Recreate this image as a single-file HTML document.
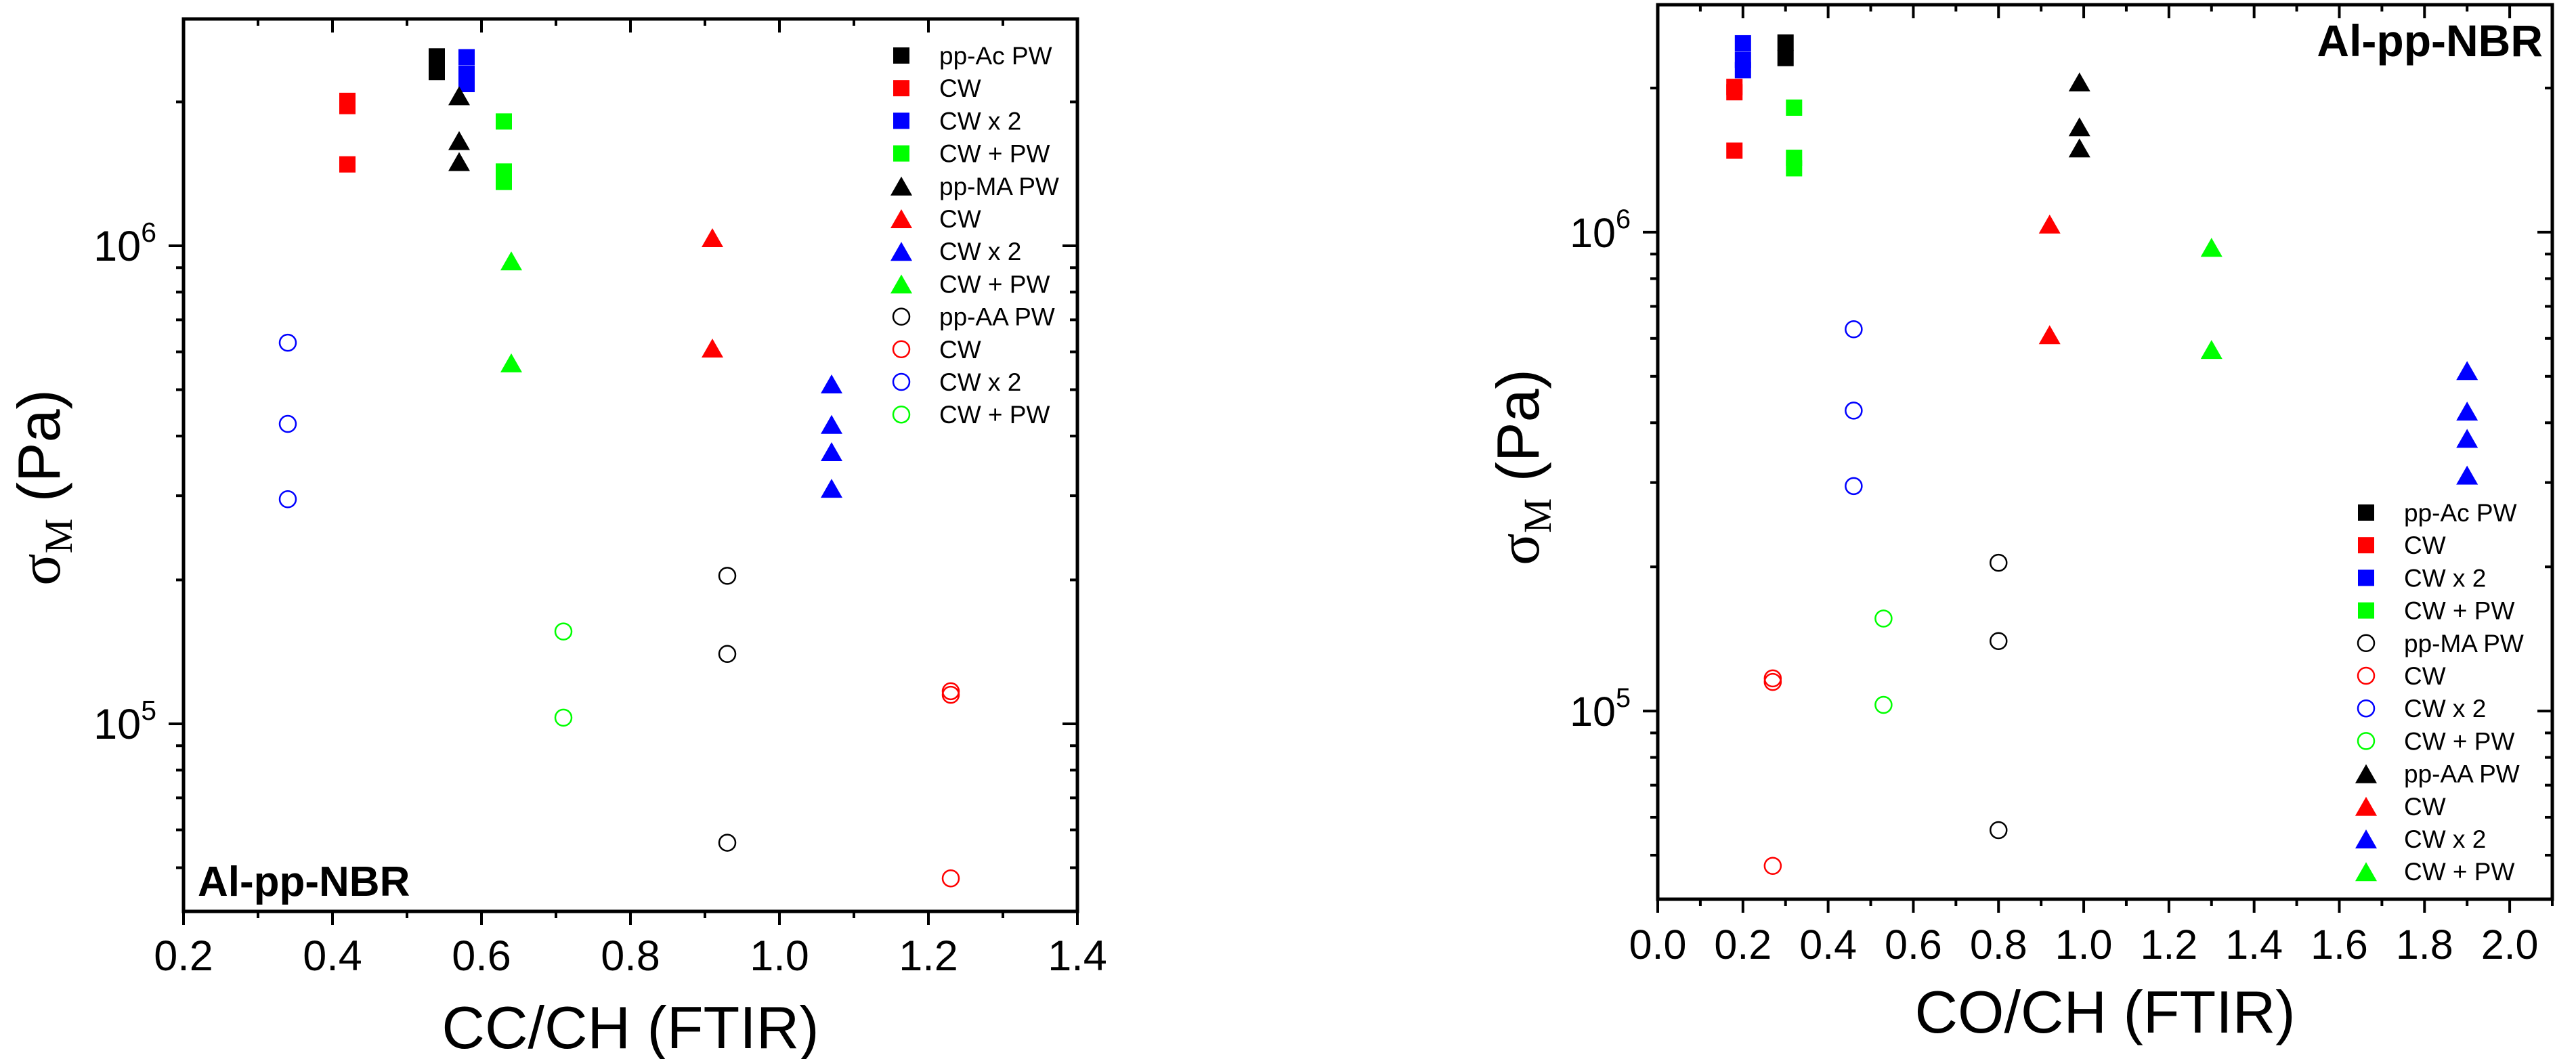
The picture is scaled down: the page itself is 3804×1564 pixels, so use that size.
<!DOCTYPE html>
<html><head><meta charset="utf-8"><style>
html,body{margin:0;padding:0;background:#fff;}
svg{display:block;font-family:"Liberation Sans",Arial,sans-serif;}
</style></head><body>
<svg id="svg" width="3804" height="1564" viewBox="0 0 3804 1564" xmlns="http://www.w3.org/2000/svg"></svg>
<script>
// ---- data (stress sigma_M in Pa) ----
const sqBlackY = [2.49e6, 2.31e6];
const sqRedY = [2.01e6, 1.96e6, 1.48e6];
const sqBlueY = [2.48e6, 2.29e6, 2.18e6];
const sqGreenY = [1.82e6, 1.43e6, 1.36e6];
const triBlackY = [2.06e6, 1.66e6, 1.50e6];
const triRedY = [1.04e6, 6.11e5];
const triBlueY = [5.14e5, 4.23e5, 3.71e5, 3.11e5];
const triGreenY = [9.3e5, 5.69e5];
const cirBlackY = [2.04e5, 1.40e5, 5.64e4];
const cirRedY = [1.17e5, 1.15e5, 4.75e4];
const cirBlueY = [6.27e5, 4.24e5, 2.95e5];
const cirGreenY = [1.56e5, 1.03e5];
// CC/CH x values (left panel)
const ccX = {sqBlack:0.54, sqRed:0.42, sqBlue:0.58, sqGreen:0.63, triBlack:0.57, triRed:0.91, triBlue:1.07, triGreen:0.64, cirBlack:0.93, cirRed:1.23, cirBlue:0.34, cirGreen:0.71};
// CO/CH x values (right panel)
const coX = {sqBlack:0.30, sqRed:0.18, sqBlue:0.20, sqGreen:0.32, triBlack:0.99, triRed:0.92, triBlue:1.90, triGreen:1.30, cirBlack:0.80, cirRed:0.27, cirBlue:0.46, cirGreen:0.53};
const leftTicks = ["0.2","0.4","0.6","0.8","1.0","1.2","1.4"];
const rightTicks = ["0.0","0.2","0.4","0.6","0.8","1.0","1.2","1.4","1.6","1.8","2.0"];
const leftLegend = ["pp-Ac PW","CW","CW x 2","CW + PW","pp-MA PW","CW","CW x 2","CW + PW","pp-AA PW","CW","CW x 2","CW + PW"];
const rightLegend = ["pp-Ac PW","CW","CW x 2","CW + PW","pp-MA PW","CW","CW x 2","CW + PW","pp-AA PW","CW","CW x 2","CW + PW"];

const NS="http://www.w3.org/2000/svg";
const svg=document.getElementById('svg');
function mk(tag,attrs,parent,txt){const e=document.createElementNS(NS,tag);for(const k in attrs)e.setAttribute(k,attrs[k]);if(txt!==undefined)e.textContent=txt;(parent||svg).appendChild(e);return e;}
const COL={Black:'#000',Red:'#ff0000',Blue:'#0000ff',Green:'#00ff00'};
function marker(g,shape,color,cx,cy){
  let e;
  if(shape==='sq'){e=mk('rect',{x:cx-12,y:cy-12,width:24,height:24,fill:color},g);}
  else if(shape==='tri'){e=mk('polygon',{points:`${cx},${cy-14} ${cx+16},${cy+14} ${cx-16},${cy+14}`,fill:color},g);}
  else {e=mk('circle',{cx:cx,cy:cy,r:12,fill:'none',stroke:color,'stroke-width':2.5},g);}
  return e;
}
function panel(o){
  const g=mk('g',{});
  
  
  const xs=v=>o.L+(v-o.xmin)/(o.xmax-o.xmin)*(o.R-o.L);
  const ys=v=>o.T+(o.lmax-Math.log10(v))/(o.lmax-o.lmin)*(o.B-o.T);
  for(let v=o.xmin;v<=o.xmax+1e-9;v+=0.1){
    const major=Math.abs(Math.round(v*10)%2)===0;
    const x=xs(v);
    mk('line',{x1:x,y1:o.B,x2:x,y2:o.B+(major?20:10),stroke:'#000','stroke-width':4},g);
    mk('line',{x1:x,y1:o.T,x2:x,y2:o.T+(major?20:10),stroke:'#000','stroke-width':4},g);
  }
  o.ticks.forEach(t=>{const e=mk('text',{x:xs(parseFloat(t)),y:o.tickY,'font-size':o.tfs,'text-anchor':'middle'},g,t);});
  for(let d=4;d<=6;d++){for(let m=1;m<=9;m++){const v=m*Math.pow(10,d);const l=Math.log10(v);if(l<o.lmin||l>o.lmax)continue;const y=ys(v);const len=m===1?22:11;
    mk('line',{x1:o.L-len,y1:y,x2:o.L,y2:y,stroke:'#000','stroke-width':4},g);
    mk('line',{x1:o.R,y1:y,x2:o.R-len,y2:y,stroke:'#000','stroke-width':4},g);}}
  [5,6].forEach(d=>{const y=ys(Math.pow(10,d));const t=mk('text',{x:o.L-40,y:y+22,'font-size':o.tfs,'text-anchor':'end'},g);
    mk('tspan',{},t,'10');mk('tspan',{dy:-28,'font-size':o.tfs*0.65},t,String(d));});
  const fr=mk('rect',{x:o.L,y:o.T,width:o.R-o.L,height:o.B-o.T,fill:'none',stroke:'#000','stroke-width':5},g);
  
  const sets=[['sq','Black',sqBlackY],['sq','Red',sqRedY],['sq','Blue',sqBlueY],['sq','Green',sqGreenY],
   ['tri','Black',triBlackY],['tri','Red',triRedY],['tri','Blue',triBlueY],['tri','Green',triGreenY],
   ['cir','Black',cirBlackY],['cir','Red',cirRedY],['cir','Blue',cirBlueY],['cir','Green',cirGreenY]];
  sets.forEach(([sh,c,arr])=>{const xv=o.xmap[sh+c];arr.forEach(v=>{const e=marker(g,sh,COL[c],xs(xv),ys(v));
    });});
  o.legOrder.forEach((k,i)=>{const [sh,c]=k;const y=o.legY+i*48.2;
    const m=marker(g,sh,COL[c],o.legX,y);
    const t=mk('text',{x:o.legX+56,y:y+13,'font-size':37},g,o.legend[i]);});
  const xt=mk('text',{x:(o.L+o.R)/2,y:o.xtY,'font-size':88,'text-anchor':'middle'},g,o.xtitle);
  
  const yt=mk('text',{transform:`translate(${o.ytX},${o.ytY}) rotate(-90)`,'font-size':88,'text-anchor':'middle'},g);
  
  mk('tspan',{'font-family':'"Liberation Serif",serif'},yt,'σ');mk('tspan',{dy:18,'font-size':58,'font-family':'"Liberation Serif",serif'},yt,'M');mk('tspan',{dy:-18},yt,' (Pa)');
  const an=mk('text',{x:o.anX,y:o.anY,'font-size':o.anFs,'font-weight':'bold','text-anchor':o.anAnchor},g,'Al-pp-NBR');
  
}
const ordA=[['sq','Black'],['sq','Red'],['sq','Blue'],['sq','Green'],['tri','Black'],['tri','Red'],['tri','Blue'],['tri','Green'],['cir','Black'],['cir','Red'],['cir','Blue'],['cir','Green']];
const ordB=[['sq','Black'],['sq','Red'],['sq','Blue'],['sq','Green'],['cir','Black'],['cir','Red'],['cir','Blue'],['cir','Green'],['tri','Black'],['tri','Red'],['tri','Blue'],['tri','Green']];
panel({name:'left-chart',L:271,R:1591,T:28,B:1346,xmin:0.2,xmax:1.4,lmin:4.6076,lmax:6.4745,ticks:leftTicks,tickY:1433,tfs:63,
  xmap:ccX,legOrder:ordA,legend:leftLegend,legX:1331,legY:82,xtitle:'CC/CH (FTIR)',xtY:1548,ytX:88,ytY:720,
  anX:292,anY:1323,anFs:62,anAnchor:'start'});
panel({name:'right-chart',L:2448,R:3769,T:7,B:1328,xmin:0,xmax:2.1,lmin:4.607,lmax:6.475,ticks:rightTicks,tickY:1416,tfs:61,
  xmap:coX,legOrder:ordB,legend:rightLegend,legX:3494,legY:757,xtitle:'CO/CH (FTIR)',xtY:1525,ytX:2272,ytY:690,
  anX:3755,anY:83,anFs:66,anAnchor:'end'});
</script>
</body></html>
